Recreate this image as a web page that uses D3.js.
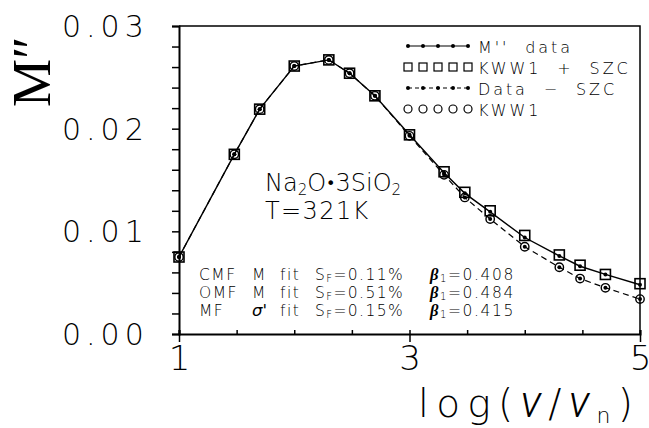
<!DOCTYPE html>
<html>
<head>
<meta charset="utf-8">
<script src="https://cdn.jsdelivr.net/npm/d3@7"></script>
<style>
  body { margin: 0; background: #fff; }
  svg { display: block; }
  .thin { font-family: "DejaVu Sans", sans-serif; font-weight: 200; fill: #000; }
</style>
</head>
<body>
<svg id="vis" width="649" height="428"></svg>
<script>
const width = 649;
const height = 428;
const marginLeft = 179;
const marginTop = 26;
const plotW = 461;
const plotH = 308;

// log(nu/nu_n)
const logNu = [1, 1.48, 1.7, 2, 2.3, 2.48, 2.7, 3, 3.3, 3.48, 3.7, 4, 4.3, 4.48, 4.7, 5];
// M'' data (solid line, dots)
const mData = [0.0075, 0.0175, 0.0219, 0.0261, 0.0267, 0.0254, 0.0232, 0.0194, 0.0157, 0.0137, 0.0119, 0.0094, 0.0076, 0.0066, 0.0058, 0.0048];
// KWW1 + SZC (squares)
const kwwSzc = [0.0075, 0.0175, 0.0219, 0.0261, 0.0267, 0.0254, 0.0232, 0.0194, 0.0158, 0.0138, 0.0120, 0.0096, 0.0077, 0.0067, 0.0058, 0.0049];
// Data - SZC (dashed line, dots)
const dataSzc = [0.0075, 0.0175, 0.0219, 0.0261, 0.0267, 0.0254, 0.0232, 0.0193, 0.0155, 0.0133, 0.0112, 0.0085, 0.0065, 0.0054, 0.0045, 0.0034];
// KWW1 (circles)
const kww1 = [0.0075, 0.0175, 0.0219, 0.0261, 0.0267, 0.0254, 0.0232, 0.0193, 0.0155, 0.0133, 0.0112, 0.0085, 0.0065, 0.0054, 0.0045, 0.0034];

const xMinor = [1, 1.5, 2, 2.5, 3, 3.5, 4, 4.5, 5];
const xMajor = [1, 3, 5];
const yTicks = d3.range(0, 0.0301, 0.002);
const yLabels = [0, 0.01, 0.02, 0.03];

const legendLabels = ["M''  data", "KWW1  +  SZC", "Data  −  SZC", "KWW1"];

const svg = d3.select("#vis");

const x = d3.scaleLinear().domain([1, 5]).range([marginLeft, marginLeft + plotW]);
const y = d3.scaleLinear().domain([0, 0.03]).range([marginTop + plotH, marginTop]);

// frame top + right
svg.append("path")
  .attr("d", `M${x(1)},${y(0.03)}H${x(5)}V${y(0)}`)
  .attr("fill", "none")
  .attr("stroke", "#000")
  .attr("stroke-width", 1.5);

// left axis
const yAxis = svg.append("g")
  .attr("transform", `translate(${x(1)},0)`)
  .call(d3.axisLeft(y).tickValues(yTicks).tickSize(7).tickFormat(""));
yAxis.select(".domain").attr("stroke-width", 2);
yAxis.selectAll(".tick line").attr("stroke-width", 1.5);

svg.selectAll("text.ylab")
  .data(yLabels)
  .join("text")
  .attr("class", "ylab thin")
  .attr("x", 62)
  .attr("y", d => y(d) + 11)
  .attr("font-size", 30)
  .attr("letter-spacing", 5)
  .text(d => d.toFixed(2));

// bottom axis: minor ticks inward, major ticks outward
const xAxisMinor = svg.append("g")
  .attr("transform", `translate(0,${y(0)})`)
  .call(d3.axisBottom(x).tickValues(xMinor).tickSize(-4).tickFormat(""));
xAxisMinor.select(".domain").attr("stroke-width", 2);
xAxisMinor.selectAll(".tick line").attr("stroke-width", 1.5);

const xAxisMajor = svg.append("g")
  .attr("transform", `translate(0,${y(0)})`)
  .call(d3.axisBottom(x).tickValues(xMajor).tickSize(8).tickFormat(d3.format("d")));
xAxisMajor.select(".domain").remove();
xAxisMajor.selectAll(".tick line").attr("stroke-width", 1.5);
xAxisMajor.selectAll(".tick text")
  .attr("class", "thin")
  .attr("font-size", 34)
  .attr("dy", null)
  .attr("y", 36)
  .attr("font-family", null);

// lines
const line = d3.line().x(d => x(d[0])).y(d => y(d[1]));

svg.append("path")
  .attr("d", line(d3.zip(logNu, dataSzc)))
  .attr("fill", "none")
  .attr("stroke", "#000")
  .attr("stroke-width", 1.2)
  .attr("stroke-dasharray", "6,4");

svg.append("path")
  .attr("d", line(d3.zip(logNu, mData)))
  .attr("fill", "none")
  .attr("stroke", "#000")
  .attr("stroke-width", 1.4);

// markers
svg.selectAll("rect.sq")
  .data(d3.zip(logNu, kwwSzc))
  .join("rect")
  .attr("class", "sq")
  .attr("x", d => x(d[0]) - 5)
  .attr("y", d => y(d[1]) - 5)
  .attr("width", 10)
  .attr("height", 10)
  .attr("fill", "none")
  .attr("stroke", "#000")
  .attr("stroke-width", 1.6);

svg.selectAll("circle.ci")
  .data(d3.zip(logNu, kww1))
  .join("circle")
  .attr("class", "ci")
  .attr("cx", d => x(d[0]))
  .attr("cy", d => y(d[1]))
  .attr("r", 4.2)
  .attr("fill", "none")
  .attr("stroke", "#000")
  .attr("stroke-width", 1.4);

svg.selectAll("circle.d1")
  .data(d3.zip(logNu, mData).concat(d3.zip(logNu, dataSzc)))
  .join("circle")
  .attr("class", "d1")
  .attr("cx", d => x(d[0]))
  .attr("cy", d => y(d[1]))
  .attr("r", 2)
  .attr("fill", "#000");

// legend
const legX = 408;
const legStep = 15;
const legRows = [46, 67, 88, 109];
const legend = svg.append("g");
legend.append("line")
  .attr("x1", legX).attr("x2", legX + 4 * legStep)
  .attr("y1", legRows[0]).attr("y2", legRows[0])
  .attr("stroke", "#000").attr("stroke-width", 1.2);
legend.append("line")
  .attr("x1", legX).attr("x2", legX + 4 * legStep)
  .attr("y1", legRows[2]).attr("y2", legRows[2])
  .attr("stroke", "#000").attr("stroke-width", 1.2)
  .attr("stroke-dasharray", "4,3");
d3.range(5).forEach(i => {
  const cx = legX + i * legStep;
  legend.append("circle").attr("cx", cx).attr("cy", legRows[0]).attr("r", 2).attr("fill", "#000");
  legend.append("rect").attr("x", cx - 4).attr("y", legRows[1] - 4).attr("width", 8).attr("height", 8)
    .attr("fill", "none").attr("stroke", "#000").attr("stroke-width", 1.2);
  legend.append("circle").attr("cx", cx).attr("cy", legRows[2]).attr("r", 2).attr("fill", "#000");
  legend.append("circle").attr("cx", cx).attr("cy", legRows[3]).attr("r", 4).attr("fill", "none")
    .attr("stroke", "#000").attr("stroke-width", 1.2);
});
legend.selectAll("text")
  .data(legendLabels)
  .join("text")
  .attr("class", "thin")
  .attr("x", 478)
  .attr("y", (d, i) => legRows[i] + 7)
  .attr("font-size", 16)
  .attr("letter-spacing", 2.9)
  .style("white-space", "pre")
  .text(d => d);

// y label M''
svg.append("text")
  .attr("transform", "translate(50,107) rotate(-90)")
  .attr("font-family", "'Liberation Serif', 'Times New Roman', serif")
  .attr("font-size", 54)
  .text("M\u2033");

// x label
const xl = svg.append("text")
  .attr("class", "thin")
  .attr("x", 418)
  .attr("y", 417)
  .attr("font-size", 39)
  .attr("textLength", 215)
  .attr("lengthAdjust", "spacing");
xl.append("tspan").text("log(");
xl.append("tspan").attr("font-family", "Roboto, 'Open Sans', sans-serif").attr("font-weight", 300).attr("font-style", "italic").attr("font-size", 44).text("ν");
xl.append("tspan").text("/");
xl.append("tspan").attr("font-family", "Roboto, 'Open Sans', sans-serif").attr("font-weight", 300).attr("font-style", "italic").attr("font-size", 44).text("ν");
xl.append("tspan").attr("font-size", 22).attr("dy", 6).text("n");
xl.append("tspan").attr("dy", -6).text(")");

// sample text
const t1 = svg.append("text").attr("class", "thin").attr("x", 265).attr("y", 191).attr("font-size", 24);
t1.append("tspan").text("Na");
t1.append("tspan").attr("font-size", 15).attr("dy", 4).text("2");
t1.append("tspan").attr("dy", -4).text("O");
t1.append("tspan").attr("font-size", 16).attr("font-weight", 400).attr("dy", -2).text("•");
t1.append("tspan").attr("dy", 2).text("3SiO");
t1.append("tspan").attr("font-size", 15).attr("dy", 4).text("2");
svg.append("text").attr("class", "thin").attr("x", 265).attr("y", 219).attr("font-size", 24)
  .attr("letter-spacing", 1.4).text("T=321K");

// fit info
const fitA = ["CMF", "OMF", "MF"];
const fitB = ["M", "M", "σ'"];
const fitS = ["0.11%", "0.51%", "0.15%"];
const fitBeta = ["0.408", "0.484", "0.415"];
const fitRows = [280, 298, 316];
fitRows.forEach((by, i) => {
  const g = svg.append("g");
  g.append("text").attr("class", "thin").attr("x", 199).attr("y", by).attr("font-size", 15.5).attr("letter-spacing", 1.5).text(fitA[i]);
  const b = g.append("text").attr("class", "thin").attr("x", 252).attr("y", by).attr("font-size", 15.5).text(fitB[i]);
  if (i === 2) b.attr("font-family", "'Liberation Serif', serif").attr("font-style", "italic").attr("font-weight", 700).attr("font-size", 16.5);
  g.append("text").attr("class", "thin").attr("x", 280).attr("y", by).attr("font-size", 15.5).attr("letter-spacing", 1.5).text("fit");
  const s = g.append("text").attr("class", "thin").attr("x", 315).attr("y", by).attr("font-size", 15.5).attr("letter-spacing", 1.4);
  s.append("tspan").text("S");
  s.append("tspan").attr("font-size", 10).attr("dy", 2).text("F");
  s.append("tspan").attr("dy", -2).text("=" + fitS[i]);
  const be = g.append("text").attr("class", "thin").attr("x", 430).attr("y", by).attr("font-size", 15.5).attr("letter-spacing", 1.6);
  be.append("tspan").attr("font-family", "'Liberation Serif', serif").attr("font-style", "italic").attr("font-weight", 700).attr("font-size", 16.5).text("β");
  be.append("tspan").attr("font-size", 10).attr("dy", 2).text("1");
  be.append("tspan").attr("dy", -2).text("=" + fitBeta[i]);
});
</script>
</body>
</html>
